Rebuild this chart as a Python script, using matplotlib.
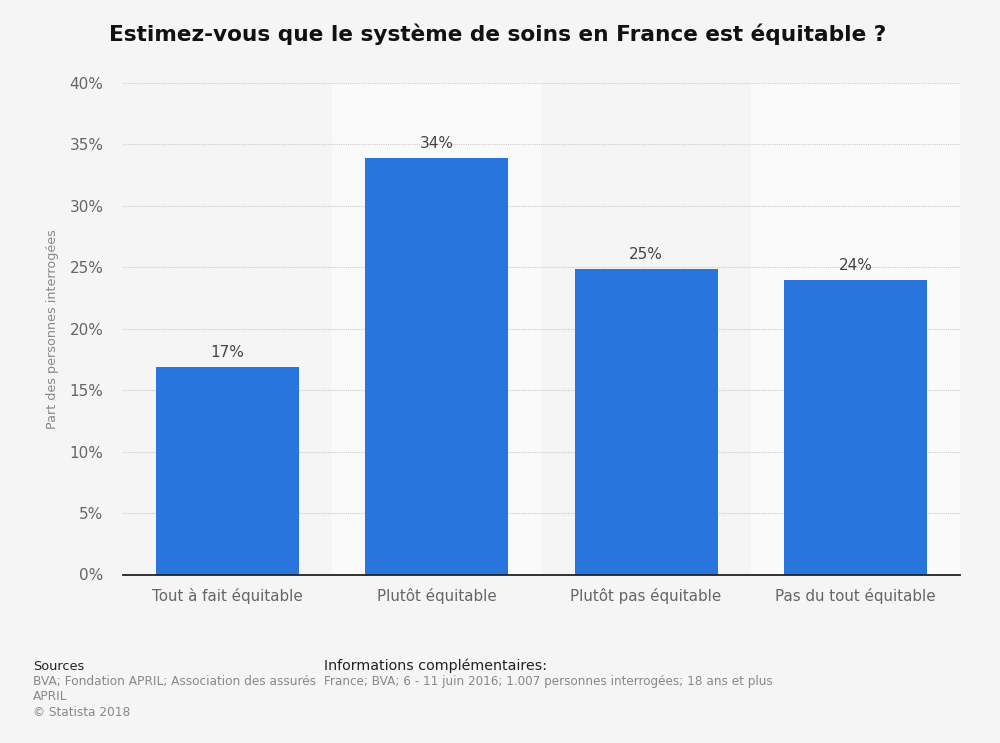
import numpy as np
import matplotlib.pyplot as plt
plt.switch_backend('agg')

categories = ["Tout à fait équitable", "Plutôt équitable", "Plutôt pas équitable", "Pas du tout équitable"]
values = [17, 34, 25, 24]
bar_heights = [16.9, 33.9, 24.9, 23.95]
y_ticks = [0, 5, 10, 15, 20, 25, 30, 35, 40]

W, H = 1000, 743
BG = "#f5f5f5"
BLUE = "#2876dd"

fig = plt.figure(figsize=(W / 100, H / 100), dpi=100, facecolor=BG)
ax = fig.add_axes([123 / W, 1 - 574.5 / H, 837 / W, 491.5 / H], facecolor=BG)

x = np.arange(len(categories))
ax.set_xlim(-0.5, 3.5)
ax.set_ylim(0, 40)

# alternating bands behind the bars
for i in x:
    if i % 2 == 1:
        ax.axvspan(i - 0.5, i + 0.5, color="#fafafa", lw=0, zorder=0)

ax.set_yticks(y_ticks)
ax.set_yticklabels([f"{t}%" for t in y_ticks], fontsize=11, color="#666666")
ax.set_xticks(x)
ax.set_xticklabels(categories, fontsize=10.9, color="#666666")
ax.tick_params(axis='both', length=0)
ax.tick_params(axis='x', pad=10)
ax.tick_params(axis='y', pad=14)
ax.grid(axis='y', color="#cccccc", linestyle=(0, (1, 1)), linewidth=0.8, zorder=1)
ax.set_axisbelow(True)
for side in ['top', 'right', 'left']:
    ax.spines[side].set_visible(False)
ax.spines['bottom'].set_color("#222222")
ax.spines['bottom'].set_linewidth(1.3)

ax.bar(x, bar_heights, width=0.684, color=BLUE, zorder=2)
for i, v in enumerate(values):
    ax.annotate(f"{v}%", (x[i], bar_heights[i]), xytext=(0, 5), textcoords='offset points',
                ha='center', va='bottom', fontsize=11, color="#444444")

fig.text(53 / W, 1 - 329 / H, "Part des personnes interrogées", rotation=90, ha='center', va='center',
         fontsize=9.2, color="#888888")
fig.text(498 / W, 1 - 34.5 / H, "Estimez-vous que le système de soins en France est équitable ?",
         ha='center', va='center', fontsize=15.6, fontweight='bold', color="#111111")

fig.text(33 / W, 1 - 666 / H, "Sources", ha='left', va='center', fontsize=9.3, color="#222222")
fig.text(33 / W, 1 - 682 / H, "BVA; Fondation APRIL; Association des assurés", ha='left', va='center', fontsize=8.75, color="#888888")
fig.text(33 / W, 1 - 697 / H, "APRIL", ha='left', va='center', fontsize=8.75, color="#888888")
fig.text(33 / W, 1 - 713 / H, "© Statista 2018", ha='left', va='center', fontsize=8.75, color="#888888")
fig.text(324 / W, 1 - 666 / H, "Informations complémentaires:", ha='left', va='center', fontsize=10.3, color="#222222")
fig.text(324 / W, 1 - 682 / H, "France; BVA; 6 - 11 juin 2016; 1.007 personnes interrogées; 18 ans et plus",
         ha='left', va='center', fontsize=8.65, color="#888888")

fig.savefig("out.png", dpi=100, facecolor=BG)
